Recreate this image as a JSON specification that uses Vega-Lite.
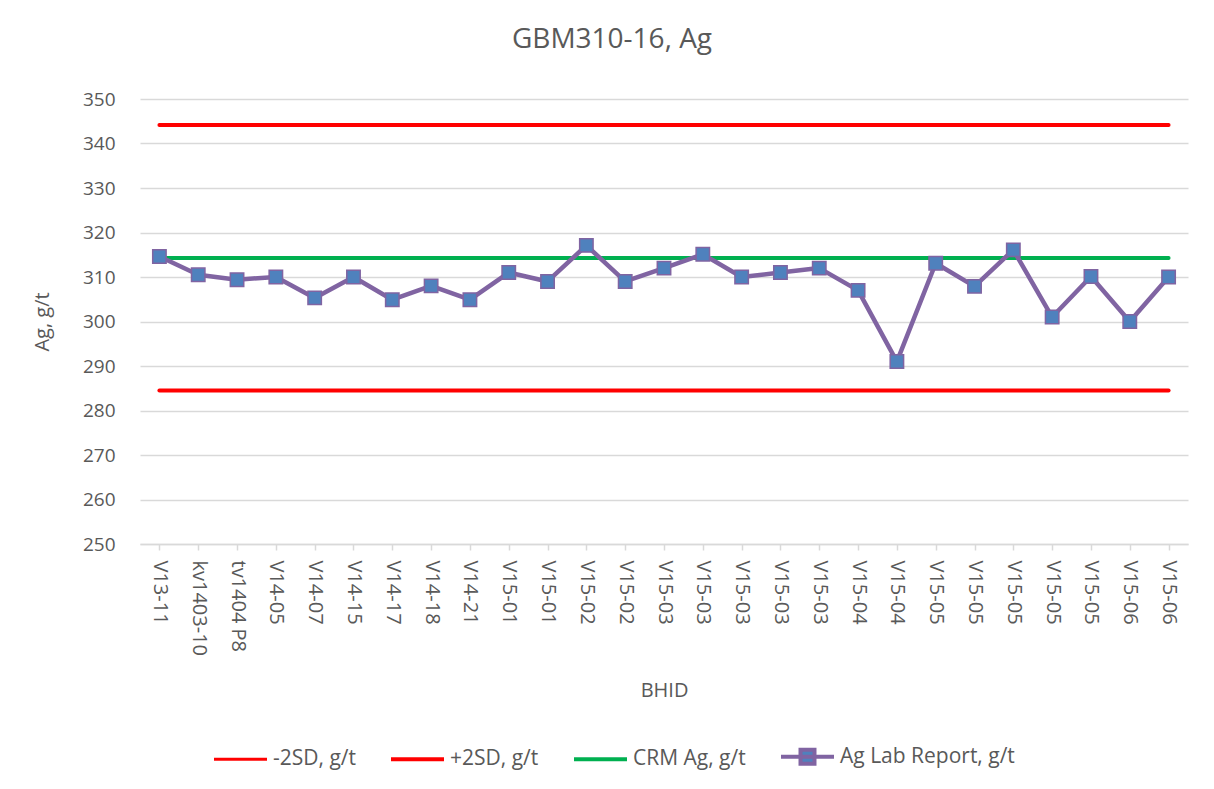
{
  "$schema": "https://vega.github.io/schema/vega-lite/v6.json",
  "width": 1048,
  "height": 445,
  "autosize": {"type": "none"},
  "padding": {"left": 140, "top": 99, "right": 26, "bottom": 245},
  "background": "white",
  "title": {
    "text": "GBM310-16, Ag",
    "fontSize": 28,
    "fontWeight": "normal",
    "color": "#595959",
    "font": "Open Sans",
    "anchor": "middle",
    "frame": "group",
    "dx": -52,
    "offset": 36
  },
  "config": {
    "font": "Open Sans",
    "view": {"stroke": null},
    "axis": {
      "labelColor": "#595959",
      "titleColor": "#595959",
      "titleFontWeight": "normal",
      "labelFont": "Open Sans",
      "titleFont": "Open Sans"
    },
    "legend": {"labelColor": "#595959", "labelFont": "Open Sans"}
  },
  "datasets": {
    "lab": [
      {"i": 0, "bhid": "V13-11", "ag": 314.6},
      {"i": 1, "bhid": "kv1403-10", "ag": 310.5},
      {"i": 2, "bhid": "tv1404 P8", "ag": 309.4},
      {"i": 3, "bhid": "V14-05", "ag": 310},
      {"i": 4, "bhid": "V14-07", "ag": 305.3},
      {"i": 5, "bhid": "V14-15", "ag": 310},
      {"i": 6, "bhid": "V14-17", "ag": 304.9},
      {"i": 7, "bhid": "V14-18", "ag": 308},
      {"i": 8, "bhid": "V14-21", "ag": 304.9},
      {"i": 9, "bhid": "V15-01", "ag": 311},
      {"i": 10, "bhid": "V15-01", "ag": 309},
      {"i": 11, "bhid": "V15-02", "ag": 317.1},
      {"i": 12, "bhid": "V15-02", "ag": 309},
      {"i": 13, "bhid": "V15-03", "ag": 312},
      {"i": 14, "bhid": "V15-03", "ag": 315.1},
      {"i": 15, "bhid": "V15-03", "ag": 310},
      {"i": 16, "bhid": "V15-03", "ag": 311},
      {"i": 17, "bhid": "V15-03", "ag": 312},
      {"i": 18, "bhid": "V15-04", "ag": 307},
      {"i": 19, "bhid": "V15-04", "ag": 291},
      {"i": 20, "bhid": "V15-05", "ag": 313.1},
      {"i": 21, "bhid": "V15-05", "ag": 307.9},
      {"i": 22, "bhid": "V15-05", "ag": 316.1},
      {"i": 23, "bhid": "V15-05", "ag": 301},
      {"i": 24, "bhid": "V15-05", "ag": 310.1},
      {"i": 25, "bhid": "V15-06", "ag": 300},
      {"i": 26, "bhid": "V15-06", "ag": 310}
    ],
    "limits": [
      {"series": "-2SD, g/t", "i": 0, "value": 284.5},
      {"series": "-2SD, g/t", "i": 26, "value": 284.5},
      {"series": "+2SD, g/t", "i": 0, "value": 344.15},
      {"series": "+2SD, g/t", "i": 26, "value": 344.15},
      {"series": "CRM Ag, g/t", "i": 0, "value": 314.25},
      {"series": "CRM Ag, g/t", "i": 26, "value": 314.25}
    ]
  },
  "encoding": {
    "x": {
      "field": "i",
      "type": "ordinal",
      "scale": {"type": "point", "padding": 0.5},
      "axis": {
        "title": "BHID",
        "titleFontSize": 20,
        "titlePadding": 25,
        "labelAngle": 90,
        "labelAlign": "left",
        "labelBaseline": "middle",
        "labelFontSize": 20,
        "labelPadding": 10,
        "labelExpr": "['V13-11','kv1403-10','tv1404 P8','V14-05','V14-07','V14-15','V14-17','V14-18','V14-21','V15-01','V15-01','V15-02','V15-02','V15-03','V15-03','V15-03','V15-03','V15-03','V15-04','V15-04','V15-05','V15-05','V15-05','V15-05','V15-05','V15-06','V15-06'][datum.value]",
        "domainColor": "#D9D9D9",
        "domainWidth": 1.5,
        "tickColor": "#D9D9D9",
        "tickSize": 6,
        "tickWidth": 1.5,
        "grid": false
      }
    }
  },
  "layer": [
    {
      "data": {"name": "limits"},
      "mark": {"type": "line", "strokeWidth": 4, "strokeCap": "round"},
      "encoding": {
        "y": {
          "field": "value",
          "type": "quantitative",
          "scale": {"domain": [250, 350], "nice": false, "zero": false},
          "axis": {
            "title": "Ag, g/t",
            "titleFontSize": 20,
            "titlePadding": 30,
            "values": [250, 260, 270, 280, 290, 300, 310, 320, 330, 340, 350],
            "labelFontSize": 19,
            "labelPadding": 25,
            "domain": false,
            "ticks": false,
            "grid": true,
            "gridColor": "#D9D9D9",
            "gridWidth": 1.5
          }
        },
        "color": {
          "field": "series",
          "type": "nominal",
          "scale": {
            "domain": ["-2SD, g/t", "+2SD, g/t", "CRM Ag, g/t", "Ag Lab Report, g/t"],
            "range": ["#FF0000", "#FF0000", "#00B050", "#8064A2"]
          },
          "legend": {
            "title": null,
            "orient": "none",
            "direction": "horizontal",
            "legendX": 90,
            "legendY": 647,
            "labelFontSize": 21,
            "labelLimit": 400,
            "symbolType": "stroke",
            "symbolSize": 2809,
            "symbolStrokeWidth": 4,
            "labelOffset": 22,
            "columnPadding": 27,
            "encode": {
              "symbols": {
                "update": {
                  "shape": {"signal": "datum.value === 'Ag Lab Report, g/t' ? 'M-1,0H1M-0.264,-0.264H0.264V0.264H-0.264Z' : 'stroke'"},
                  "fill": {"signal": "datum.value === 'Ag Lab Report, g/t' ? '#4F81BD' : 'transparent'"},
                  "strokeWidth": {"signal": "datum.value === '-2SD, g/t' ? 3 : 4"},
                  "opacity": {"value": 1}
                }
              }
            }
          }
        }
      }
    },
    {
      "data": {"name": "lab"},
      "mark": {"type": "line", "strokeWidth": 4.5, "strokeJoin": "round"},
      "encoding": {
        "y": {"field": "ag", "type": "quantitative"},
        "color": {"datum": "Ag Lab Report, g/t"}
      }
    },
    {
      "data": {"name": "lab"},
      "mark": {
        "type": "point",
        "shape": "square",
        "filled": true,
        "size": 180,
        "fill": "#4F81BD",
        "stroke": "#8064A2",
        "strokeWidth": 1.5,
        "opacity": 1
      },
      "encoding": {
        "y": {"field": "ag", "type": "quantitative"}
      }
    }
  ]
}
